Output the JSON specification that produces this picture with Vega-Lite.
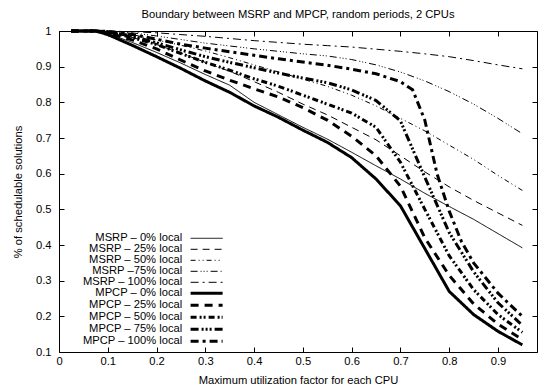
{
  "$schema": "https://vega.github.io/schema/vega-lite/v6.json",
  "width": 478,
  "height": 321,
  "autosize": {"type": "none"},
  "padding": {"left": 59, "top": 31, "right": 2, "bottom": 36},
  "background": "white",
  "title": {"text": "Boundary between MSRP and MPCP, random periods, 2 CPUs", "fontSize": 11.2, "fontWeight": "normal", "font": "Liberation Sans", "offset": 5, "anchor": "middle", "color": "black"},
  "config": {
    "view": {"stroke": null},
    "axis": {"grid": false, "domainColor": "black", "tickColor": "black", "labelColor": "black", "titleColor": "black", "labelFont": "Liberation Sans", "titleFont": "Liberation Sans", "labelFontSize": 11.2, "titleFontSize": 11.2, "titleFontWeight": "normal", "tickSize": -5, "domainWidth": 1, "format": "~g"}
  },
  "data": {"values": [
    {"series": "MSRP – 0% local", "x": 0.025, "y": 1}, {"series": "MSRP – 0% local", "x": 0.05, "y": 1}, {"series": "MSRP – 0% local", "x": 0.075, "y": 1}, {"series": "MSRP – 0% local", "x": 0.1, "y": 0.993}, {"series": "MSRP – 0% local", "x": 0.15, "y": 0.968}, {"series": "MSRP – 0% local", "x": 0.2, "y": 0.94}, {"series": "MSRP – 0% local", "x": 0.25, "y": 0.91}, {"series": "MSRP – 0% local", "x": 0.3, "y": 0.878}, {"series": "MSRP – 0% local", "x": 0.35, "y": 0.848}, {"series": "MSRP – 0% local", "x": 0.4, "y": 0.8}, {"series": "MSRP – 0% local", "x": 0.45, "y": 0.765}, {"series": "MSRP – 0% local", "x": 0.5, "y": 0.73}, {"series": "MSRP – 0% local", "x": 0.55, "y": 0.697}, {"series": "MSRP – 0% local", "x": 0.6, "y": 0.66}, {"series": "MSRP – 0% local", "x": 0.65, "y": 0.622}, {"series": "MSRP – 0% local", "x": 0.7, "y": 0.585}, {"series": "MSRP – 0% local", "x": 0.75, "y": 0.545}, {"series": "MSRP – 0% local", "x": 0.8, "y": 0.508}, {"series": "MSRP – 0% local", "x": 0.85, "y": 0.472}, {"series": "MSRP – 0% local", "x": 0.9, "y": 0.432}, {"series": "MSRP – 0% local", "x": 0.95, "y": 0.392},

    {"series": "MSRP – 25% local", "x": 0.025, "y": 1}, {"series": "MSRP – 25% local", "x": 0.05, "y": 1}, {"series": "MSRP – 25% local", "x": 0.075, "y": 1}, {"series": "MSRP – 25% local", "x": 0.1, "y": 0.996}, {"series": "MSRP – 25% local", "x": 0.15, "y": 0.982}, {"series": "MSRP – 25% local", "x": 0.2, "y": 0.962}, {"series": "MSRP – 25% local", "x": 0.25, "y": 0.938}, {"series": "MSRP – 25% local", "x": 0.3, "y": 0.912}, {"series": "MSRP – 25% local", "x": 0.35, "y": 0.887}, {"series": "MSRP – 25% local", "x": 0.4, "y": 0.858}, {"series": "MSRP – 25% local", "x": 0.45, "y": 0.828}, {"series": "MSRP – 25% local", "x": 0.5, "y": 0.795}, {"series": "MSRP – 25% local", "x": 0.55, "y": 0.765}, {"series": "MSRP – 25% local", "x": 0.6, "y": 0.73}, {"series": "MSRP – 25% local", "x": 0.65, "y": 0.695}, {"series": "MSRP – 25% local", "x": 0.7, "y": 0.65}, {"series": "MSRP – 25% local", "x": 0.75, "y": 0.605}, {"series": "MSRP – 25% local", "x": 0.8, "y": 0.563}, {"series": "MSRP – 25% local", "x": 0.85, "y": 0.525}, {"series": "MSRP – 25% local", "x": 0.9, "y": 0.49}, {"series": "MSRP – 25% local", "x": 0.95, "y": 0.455},

    {"series": "MSRP – 50% local", "x": 0.025, "y": 1}, {"series": "MSRP – 50% local", "x": 0.05, "y": 1}, {"series": "MSRP – 50% local", "x": 0.075, "y": 1}, {"series": "MSRP – 50% local", "x": 0.1, "y": 0.998}, {"series": "MSRP – 50% local", "x": 0.15, "y": 0.99}, {"series": "MSRP – 50% local", "x": 0.2, "y": 0.975}, {"series": "MSRP – 50% local", "x": 0.25, "y": 0.96}, {"series": "MSRP – 50% local", "x": 0.3, "y": 0.944}, {"series": "MSRP – 50% local", "x": 0.35, "y": 0.925}, {"series": "MSRP – 50% local", "x": 0.4, "y": 0.905}, {"series": "MSRP – 50% local", "x": 0.45, "y": 0.885}, {"series": "MSRP – 50% local", "x": 0.5, "y": 0.865}, {"series": "MSRP – 50% local", "x": 0.55, "y": 0.845}, {"series": "MSRP – 50% local", "x": 0.6, "y": 0.82}, {"series": "MSRP – 50% local", "x": 0.65, "y": 0.79}, {"series": "MSRP – 50% local", "x": 0.7, "y": 0.755}, {"series": "MSRP – 50% local", "x": 0.75, "y": 0.72}, {"series": "MSRP – 50% local", "x": 0.8, "y": 0.68}, {"series": "MSRP – 50% local", "x": 0.85, "y": 0.64}, {"series": "MSRP – 50% local", "x": 0.9, "y": 0.595}, {"series": "MSRP – 50% local", "x": 0.95, "y": 0.553},

    {"series": "MSRP –75% local", "x": 0.025, "y": 1}, {"series": "MSRP –75% local", "x": 0.05, "y": 1}, {"series": "MSRP –75% local", "x": 0.075, "y": 1}, {"series": "MSRP –75% local", "x": 0.1, "y": 0.999}, {"series": "MSRP –75% local", "x": 0.15, "y": 0.995}, {"series": "MSRP –75% local", "x": 0.2, "y": 0.986}, {"series": "MSRP –75% local", "x": 0.25, "y": 0.976}, {"series": "MSRP –75% local", "x": 0.3, "y": 0.966}, {"series": "MSRP –75% local", "x": 0.35, "y": 0.958}, {"series": "MSRP –75% local", "x": 0.4, "y": 0.95}, {"series": "MSRP –75% local", "x": 0.45, "y": 0.943}, {"series": "MSRP –75% local", "x": 0.5, "y": 0.936}, {"series": "MSRP –75% local", "x": 0.55, "y": 0.93}, {"series": "MSRP –75% local", "x": 0.6, "y": 0.92}, {"series": "MSRP –75% local", "x": 0.65, "y": 0.905}, {"series": "MSRP –75% local", "x": 0.7, "y": 0.885}, {"series": "MSRP –75% local", "x": 0.75, "y": 0.86}, {"series": "MSRP –75% local", "x": 0.8, "y": 0.83}, {"series": "MSRP –75% local", "x": 0.85, "y": 0.795}, {"series": "MSRP –75% local", "x": 0.9, "y": 0.755}, {"series": "MSRP –75% local", "x": 0.95, "y": 0.712},

    {"series": "MSRP – 100% local", "x": 0.025, "y": 1}, {"series": "MSRP – 100% local", "x": 0.05, "y": 1}, {"series": "MSRP – 100% local", "x": 0.075, "y": 1}, {"series": "MSRP – 100% local", "x": 0.1, "y": 1}, {"series": "MSRP – 100% local", "x": 0.15, "y": 0.998}, {"series": "MSRP – 100% local", "x": 0.2, "y": 0.995}, {"series": "MSRP – 100% local", "x": 0.25, "y": 0.99}, {"series": "MSRP – 100% local", "x": 0.3, "y": 0.985}, {"series": "MSRP – 100% local", "x": 0.35, "y": 0.979}, {"series": "MSRP – 100% local", "x": 0.4, "y": 0.973}, {"series": "MSRP – 100% local", "x": 0.45, "y": 0.968}, {"series": "MSRP – 100% local", "x": 0.5, "y": 0.963}, {"series": "MSRP – 100% local", "x": 0.55, "y": 0.959}, {"series": "MSRP – 100% local", "x": 0.6, "y": 0.955}, {"series": "MSRP – 100% local", "x": 0.65, "y": 0.949}, {"series": "MSRP – 100% local", "x": 0.7, "y": 0.943}, {"series": "MSRP – 100% local", "x": 0.75, "y": 0.936}, {"series": "MSRP – 100% local", "x": 0.8, "y": 0.928}, {"series": "MSRP – 100% local", "x": 0.85, "y": 0.917}, {"series": "MSRP – 100% local", "x": 0.9, "y": 0.905}, {"series": "MSRP – 100% local", "x": 0.95, "y": 0.894},

    {"series": "MPCP – 0% local", "x": 0.025, "y": 1}, {"series": "MPCP – 0% local", "x": 0.05, "y": 1}, {"series": "MPCP – 0% local", "x": 0.075, "y": 1}, {"series": "MPCP – 0% local", "x": 0.1, "y": 0.99}, {"series": "MPCP – 0% local", "x": 0.15, "y": 0.96}, {"series": "MPCP – 0% local", "x": 0.2, "y": 0.928}, {"series": "MPCP – 0% local", "x": 0.25, "y": 0.895}, {"series": "MPCP – 0% local", "x": 0.3, "y": 0.86}, {"series": "MPCP – 0% local", "x": 0.35, "y": 0.828}, {"series": "MPCP – 0% local", "x": 0.4, "y": 0.79}, {"series": "MPCP – 0% local", "x": 0.45, "y": 0.758}, {"series": "MPCP – 0% local", "x": 0.5, "y": 0.722}, {"series": "MPCP – 0% local", "x": 0.55, "y": 0.688}, {"series": "MPCP – 0% local", "x": 0.6, "y": 0.645}, {"series": "MPCP – 0% local", "x": 0.65, "y": 0.585}, {"series": "MPCP – 0% local", "x": 0.7, "y": 0.51}, {"series": "MPCP – 0% local", "x": 0.75, "y": 0.39}, {"series": "MPCP – 0% local", "x": 0.8, "y": 0.27}, {"series": "MPCP – 0% local", "x": 0.85, "y": 0.205}, {"series": "MPCP – 0% local", "x": 0.9, "y": 0.158}, {"series": "MPCP – 0% local", "x": 0.95, "y": 0.12},

    {"series": "MPCP – 25% local", "x": 0.025, "y": 1}, {"series": "MPCP – 25% local", "x": 0.05, "y": 1}, {"series": "MPCP – 25% local", "x": 0.075, "y": 1}, {"series": "MPCP – 25% local", "x": 0.1, "y": 0.995}, {"series": "MPCP – 25% local", "x": 0.15, "y": 0.975}, {"series": "MPCP – 25% local", "x": 0.2, "y": 0.95}, {"series": "MPCP – 25% local", "x": 0.25, "y": 0.918}, {"series": "MPCP – 25% local", "x": 0.3, "y": 0.888}, {"series": "MPCP – 25% local", "x": 0.35, "y": 0.862}, {"series": "MPCP – 25% local", "x": 0.4, "y": 0.838}, {"series": "MPCP – 25% local", "x": 0.45, "y": 0.815}, {"series": "MPCP – 25% local", "x": 0.5, "y": 0.785}, {"series": "MPCP – 25% local", "x": 0.55, "y": 0.75}, {"series": "MPCP – 25% local", "x": 0.6, "y": 0.705}, {"series": "MPCP – 25% local", "x": 0.65, "y": 0.65}, {"series": "MPCP – 25% local", "x": 0.7, "y": 0.565}, {"series": "MPCP – 25% local", "x": 0.75, "y": 0.42}, {"series": "MPCP – 25% local", "x": 0.8, "y": 0.315}, {"series": "MPCP – 25% local", "x": 0.85, "y": 0.235}, {"series": "MPCP – 25% local", "x": 0.9, "y": 0.178}, {"series": "MPCP – 25% local", "x": 0.95, "y": 0.135},

    {"series": "MPCP – 50% local", "x": 0.025, "y": 1}, {"series": "MPCP – 50% local", "x": 0.05, "y": 1}, {"series": "MPCP – 50% local", "x": 0.075, "y": 1}, {"series": "MPCP – 50% local", "x": 0.1, "y": 0.997}, {"series": "MPCP – 50% local", "x": 0.15, "y": 0.982}, {"series": "MPCP – 50% local", "x": 0.2, "y": 0.962}, {"series": "MPCP – 50% local", "x": 0.25, "y": 0.937}, {"series": "MPCP – 50% local", "x": 0.3, "y": 0.912}, {"series": "MPCP – 50% local", "x": 0.35, "y": 0.89}, {"series": "MPCP – 50% local", "x": 0.4, "y": 0.866}, {"series": "MPCP – 50% local", "x": 0.45, "y": 0.845}, {"series": "MPCP – 50% local", "x": 0.5, "y": 0.82}, {"series": "MPCP – 50% local", "x": 0.55, "y": 0.795}, {"series": "MPCP – 50% local", "x": 0.6, "y": 0.77}, {"series": "MPCP – 50% local", "x": 0.65, "y": 0.73}, {"series": "MPCP – 50% local", "x": 0.7, "y": 0.632}, {"series": "MPCP – 50% local", "x": 0.75, "y": 0.5}, {"series": "MPCP – 50% local", "x": 0.8, "y": 0.37}, {"series": "MPCP – 50% local", "x": 0.85, "y": 0.275}, {"series": "MPCP – 50% local", "x": 0.9, "y": 0.205}, {"series": "MPCP – 50% local", "x": 0.95, "y": 0.155},

    {"series": "MPCP – 75% local", "x": 0.025, "y": 1}, {"series": "MPCP – 75% local", "x": 0.05, "y": 1}, {"series": "MPCP – 75% local", "x": 0.075, "y": 1}, {"series": "MPCP – 75% local", "x": 0.1, "y": 0.998}, {"series": "MPCP – 75% local", "x": 0.15, "y": 0.986}, {"series": "MPCP – 75% local", "x": 0.2, "y": 0.967}, {"series": "MPCP – 75% local", "x": 0.25, "y": 0.947}, {"series": "MPCP – 75% local", "x": 0.3, "y": 0.928}, {"series": "MPCP – 75% local", "x": 0.35, "y": 0.912}, {"series": "MPCP – 75% local", "x": 0.4, "y": 0.897}, {"series": "MPCP – 75% local", "x": 0.45, "y": 0.882}, {"series": "MPCP – 75% local", "x": 0.5, "y": 0.868}, {"series": "MPCP – 75% local", "x": 0.55, "y": 0.855}, {"series": "MPCP – 75% local", "x": 0.6, "y": 0.835}, {"series": "MPCP – 75% local", "x": 0.65, "y": 0.805}, {"series": "MPCP – 75% local", "x": 0.7, "y": 0.748}, {"series": "MPCP – 75% local", "x": 0.75, "y": 0.59}, {"series": "MPCP – 75% local", "x": 0.8, "y": 0.435}, {"series": "MPCP – 75% local", "x": 0.85, "y": 0.325}, {"series": "MPCP – 75% local", "x": 0.9, "y": 0.238}, {"series": "MPCP – 75% local", "x": 0.95, "y": 0.175},

    {"series": "MPCP – 100% local", "x": 0.025, "y": 1}, {"series": "MPCP – 100% local", "x": 0.05, "y": 1}, {"series": "MPCP – 100% local", "x": 0.075, "y": 1}, {"series": "MPCP – 100% local", "x": 0.1, "y": 0.999}, {"series": "MPCP – 100% local", "x": 0.15, "y": 0.99}, {"series": "MPCP – 100% local", "x": 0.2, "y": 0.977}, {"series": "MPCP – 100% local", "x": 0.25, "y": 0.963}, {"series": "MPCP – 100% local", "x": 0.3, "y": 0.952}, {"series": "MPCP – 100% local", "x": 0.35, "y": 0.942}, {"series": "MPCP – 100% local", "x": 0.4, "y": 0.932}, {"series": "MPCP – 100% local", "x": 0.45, "y": 0.922}, {"series": "MPCP – 100% local", "x": 0.5, "y": 0.913}, {"series": "MPCP – 100% local", "x": 0.55, "y": 0.904}, {"series": "MPCP – 100% local", "x": 0.6, "y": 0.893}, {"series": "MPCP – 100% local", "x": 0.65, "y": 0.88}, {"series": "MPCP – 100% local", "x": 0.7, "y": 0.858}, {"series": "MPCP – 100% local", "x": 0.725, "y": 0.835}, {"series": "MPCP – 100% local", "x": 0.75, "y": 0.75}, {"series": "MPCP – 100% local", "x": 0.775, "y": 0.6}, {"series": "MPCP – 100% local", "x": 0.8, "y": 0.495}, {"series": "MPCP – 100% local", "x": 0.825, "y": 0.41}, {"series": "MPCP – 100% local", "x": 0.85, "y": 0.35}, {"series": "MPCP – 100% local", "x": 0.9, "y": 0.265}, {"series": "MPCP – 100% local", "x": 0.95, "y": 0.2}
  ]},
  "resolve": {"axis": {"x": "independent", "y": "independent"}},
  "layer": [
    {
      "mark": {"type": "line", "color": "black", "strokeCap": "butt", "strokeJoin": "miter"},
      "encoding": {
        "x": {"field": "x", "type": "quantitative", "scale": {"domain": [0, 0.98], "nice": false, "zero": false},
              "axis": {"title": "Maximum utilization factor for each CPU", "values": [0, 0.1, 0.2, 0.3, 0.4, 0.5, 0.6, 0.7, 0.8, 0.9], "labelPadding": 8, "titlePadding": 8, "labelFlush": false}},
        "y": {"field": "y", "type": "quantitative", "scale": {"domain": [0.1, 1], "nice": false, "zero": false},
              "axis": {"title": "% of schedulable solutions", "values": [0.1, 0.2, 0.3, 0.4, 0.5, 0.6, 0.7, 0.8, 0.9, 1], "labelPadding": 13, "titlePadding": 12, "labelFlush": false}},
        "strokeDash": {"field": "series", "type": "nominal",
          "scale": {"domain": ["MSRP – 0% local", "MSRP – 25% local", "MSRP – 50% local", "MSRP –75% local", "MSRP – 100% local", "MPCP – 0% local", "MPCP – 25% local", "MPCP – 50% local", "MPCP – 75% local", "MPCP – 100% local"],
                    "range": [[1, 0], [7, 5], [5, 3, 1, 3, 1, 3], [7, 3, 1, 2, 1, 2, 1, 3], [8, 4, 2, 4], [1, 0], [8, 6], [6, 3, 2, 2, 2, 3], [8, 3, 2, 2, 2, 2, 2, 3], [8, 4, 3, 4]]},
          "legend": {"orient": "none", "legendX": 142, "legendY": 201.7, "title": null, "symbolType": "M-4,0H4", "symbolSize": 64, "symbolStrokeColor": "black", "labelAlign": "right", "labelOffset": -30, "labelFont": "Liberation Sans", "labelFontSize": 11.2, "labelColor": "black", "rowPadding": -1.3, "padding": 0, "labelLimit": 200}},
        "strokeWidth": {"field": "series", "type": "nominal",
          "scale": {"type": "ordinal", "domain": ["MSRP – 0% local", "MSRP – 25% local", "MSRP – 50% local", "MSRP –75% local", "MSRP – 100% local", "MPCP – 0% local", "MPCP – 25% local", "MPCP – 50% local", "MPCP – 75% local", "MPCP – 100% local"],
                    "range": [1, 1, 1, 1, 1, 3, 3, 3, 3, 3]}}
      }
    },
    {
      "mark": {"type": "line", "opacity": 0},
      "encoding": {
        "x": {"field": "x", "type": "quantitative", "axis": {"orient": "top", "labels": false, "title": null, "values": [0, 0.1, 0.2, 0.3, 0.4, 0.5, 0.6, 0.7, 0.8, 0.9]}},
        "y": {"field": "y", "type": "quantitative", "axis": {"orient": "right", "labels": false, "title": null, "values": [0.1, 0.2, 0.3, 0.4, 0.5, 0.6, 0.7, 0.8, 0.9, 1]}},
        "detail": {"field": "series", "type": "nominal"}
      }
    }
  ]
}
